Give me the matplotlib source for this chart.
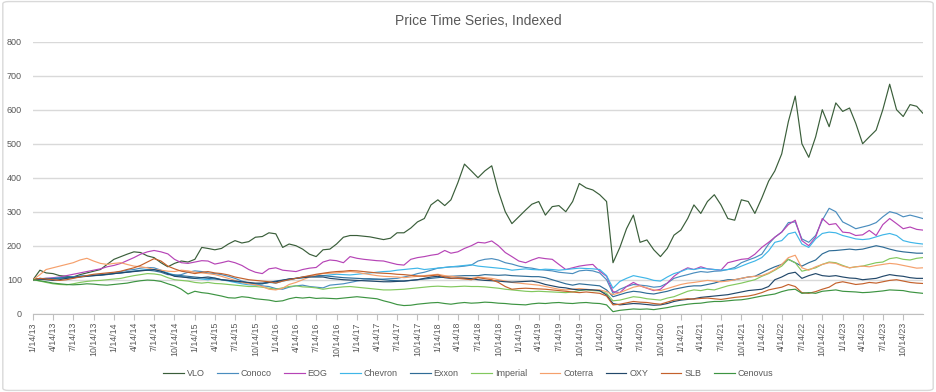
import matplotlib
matplotlib.use('Agg')
import matplotlib.pyplot as plt
import pandas as pd
from matplotlib.patches import FancyBboxPatch

# monthly readings (14th of each month) plus the last trading day shown
dates = list(pd.date_range('2013-01-14', periods=132, freq=pd.DateOffset(months=1))) + [pd.Timestamp('2024-01-10')]

vlo = [100,128,120,118,112,110,108,115,120,125,
       130,145,160,168,175,182,180,170,165,150,
       138,148,155,152,160,195,192,188,192,205,
       215,208,212,225,227,238,235,195,205,200,
       190,175,168,188,190,205,225,230,230,228,
       226,222,218,222,238,238,252,270,280,320,
       335,318,335,385,440,420,400,420,435,360,
       300,265,285,305,322,330,290,315,318,300,
       330,383,370,364,350,330,150,195,250,290,
       210,217,188,168,192,231,246,280,320,295,
       330,350,320,280,275,335,330,295,340,390,
       420,470,565,640,500,460,520,600,550,620,
       595,605,560,500,520,540,600,675,600,580,
       615,610,590]
cop = [100,104,102,103,104,105,108,110,112,114,
       115,117,120,124,128,130,134,136,135,128,
       118,112,115,122,126,124,120,118,115,110,
       104,96,90,86,82,80,74,72,78,82,
       84,80,78,76,84,86,88,92,96,99,
       100,101,102,103,104,108,112,118,122,128,
       134,136,138,138,140,143,155,160,162,158,
       150,146,140,136,134,130,128,126,122,120,
       118,126,128,126,120,100,60,72,80,86,
       84,82,78,80,90,104,110,115,120,124,
       122,125,126,130,136,150,158,165,175,205,
       225,240,268,270,220,210,230,275,310,300,
       270,260,250,255,260,268,285,300,295,285,
       290,285,280]
eog = [100,102,104,106,108,112,116,120,124,128,
       132,138,142,148,156,165,175,182,186,182,
       176,160,150,148,152,156,155,146,150,155,
       150,142,130,122,118,132,135,128,126,124,
       130,134,136,152,158,156,150,168,163,160,
       158,156,155,150,145,143,160,165,168,172,
       175,186,178,182,192,200,210,208,214,200,
       180,168,155,150,158,165,162,160,145,130,
       135,140,143,145,125,110,65,62,80,92,
       82,75,68,72,90,110,125,135,130,138,
       132,130,128,150,155,160,162,175,195,210,
       225,240,262,275,215,200,225,280,262,265,
       240,238,230,232,245,230,262,280,265,250,
       255,248,246]
cvx = [100,102,103,104,106,107,108,110,112,113,
       114,116,118,120,122,125,128,130,129,126,
       120,114,110,106,104,102,100,104,100,96,
       92,88,85,84,88,92,90,96,100,104,
       106,109,110,112,114,116,115,114,116,118,
       120,122,124,125,128,130,132,134,130,132,
       134,136,138,140,142,144,140,138,136,134,
       132,128,130,132,130,129,131,130,128,130,
       132,134,133,132,130,112,75,95,104,112,
       108,104,98,96,108,118,124,132,130,134,
       132,130,128,130,132,140,148,155,165,185,
       210,215,235,240,205,195,220,236,240,238,
       230,225,220,218,220,226,232,236,230,215,
       210,207,205]
xom = [100,103,104,103,105,107,108,110,111,112,
       113,115,118,120,123,125,127,128,126,122,
       115,114,112,110,108,106,104,102,100,98,
       95,92,90,88,88,92,96,99,102,104,
       108,110,112,112,110,108,106,105,104,103,
       103,102,100,98,97,96,98,100,102,104,
       106,108,110,111,112,112,112,115,114,113,
       114,112,111,110,109,109,106,100,94,88,
       84,88,86,84,82,70,50,56,62,66,
       64,60,58,62,66,72,76,80,82,82,
       86,90,96,100,100,104,108,110,120,130,
       138,145,160,150,140,150,158,176,185,186,
       188,190,188,190,195,200,196,190,185,182,
       180,178,178]
imo = [100,96,92,88,86,85,88,92,95,97,
       98,100,102,104,108,112,115,118,117,114,
       106,100,98,96,92,90,92,89,88,86,
       84,82,80,80,78,75,72,76,80,82,
       79,78,76,72,75,77,79,80,78,76,
       74,72,70,70,71,72,74,76,78,80,
       81,80,79,80,81,80,80,79,77,75,
       72,70,68,66,65,66,65,64,63,62,
       64,68,70,68,67,60,38,40,45,50,
       48,44,42,40,46,50,58,66,70,68,
       72,70,76,82,86,90,95,100,110,118,
       128,140,160,150,125,130,135,145,152,150,
       142,135,138,140,145,150,152,162,165,160,
       158,163,165]
ctra = [100,115,130,135,140,145,150,158,163,155,
        148,145,148,150,145,140,138,135,130,128,
        125,124,128,126,122,120,118,115,110,104,
        98,92,88,85,80,72,70,75,86,92,
        100,108,114,118,119,120,122,124,122,118,
        115,112,110,109,108,106,108,110,112,114,
        116,112,110,108,106,104,108,106,104,100,
        96,92,90,88,86,84,80,76,72,70,
        72,74,72,70,70,65,56,62,70,78,
        82,76,70,68,74,80,86,90,92,95,
        98,96,94,96,100,104,108,110,112,120,
        130,145,165,172,135,128,138,145,150,148,
        140,135,138,140,138,142,145,148,146,142,
        138,134,135]
oxy = [100,102,100,98,100,104,106,108,110,112,
       114,116,118,120,122,124,126,128,130,125,
       118,110,108,106,104,106,108,105,100,98,
       96,94,92,90,90,92,94,98,102,104,
       106,108,108,108,104,102,100,99,98,97,
       96,95,94,94,95,96,98,100,104,108,
       110,106,104,105,104,103,100,98,97,96,
       94,93,94,95,96,92,86,82,78,76,
       72,70,71,70,68,55,30,26,28,30,
       29,27,25,26,30,36,40,42,44,48,
       50,52,54,56,60,64,68,70,72,80,
       100,108,118,122,104,112,118,112,110,112,
       108,105,104,100,102,104,110,115,112,110,
       106,104,104]
slb = [100,104,102,100,98,100,104,108,112,116,
       118,120,122,125,130,135,142,152,162,155,
       140,132,125,122,118,122,124,120,118,114,
       108,104,100,98,96,94,90,96,100,104,
       108,112,116,119,122,124,125,127,126,124,
       122,120,119,118,116,115,113,111,110,112,
       114,108,105,104,102,100,106,103,100,92,
       80,72,74,75,74,73,72,70,68,66,
       64,62,64,62,60,52,26,28,32,36,
       34,33,30,28,34,40,42,44,43,45,
       46,44,42,45,48,50,52,56,62,70,
       74,78,86,80,62,60,65,72,78,90,
       94,90,86,88,92,90,94,98,100,96,
       92,90,89]
cve = [100,97,94,90,88,86,85,86,88,87,
       85,84,86,88,90,94,97,99,98,95,
       88,82,72,58,66,62,60,56,52,47,
       46,50,48,44,42,40,36,38,44,48,
       46,48,45,46,45,44,46,48,50,48,
       46,44,38,33,27,24,25,28,30,32,
       33,30,28,31,33,31,32,34,33,31,
       30,28,27,26,29,31,30,32,33,31,
       30,32,33,31,30,26,6,10,12,14,
       13,14,12,15,18,22,25,28,30,31,
       34,36,36,38,40,41,44,48,52,55,
       58,65,70,72,60,62,60,66,68,70,
       66,65,64,62,63,65,67,70,69,68,
       64,62,60]

names = ['VLO', 'Conoco', 'EOG', 'Chevron', 'Exxon', 'Imperial', 'Coterra', 'OXY', 'SLB', 'Cenovus']
series = [vlo, cop, eog, cvx, xom, imo, ctra, oxy, slb, cve]
colors = ['#3A5E3A', '#4A8DBE', '#B644B6', '#3FB6E8', '#2F6C96', '#82C85E',
          '#F5A06C', '#22486A', '#C4612C', '#3D9442']

tick_dates = pd.date_range('2013-01-14', '2023-10-14', freq=pd.DateOffset(months=3))
tick_labels = [f'{d.month}/{d.day}/{d.year % 100}' for d in tick_dates]

plt.rcParams['font.family'] = ['Liberation Sans', 'DejaVu Sans']
grey = '#595959'

fig = plt.figure(figsize=(9.36, 3.92), dpi=100)
fig.patches.append(FancyBboxPatch((0.003, 0.004), 0.994, 0.992, boxstyle='round,pad=0,rounding_size=0.006',
                                  transform=fig.transFigure, fc='none', ec='#D9D9D9', lw=1.0, zorder=0))
ax = fig.add_axes([0.0353, 0.1997, 0.9505, 0.6939])
ax.patch.set_alpha(0)

for s, n, c in zip(series, names, colors):
    ax.plot(dates, s, color=c, lw=0.85, label=n)

ax.set_ylim(0, 800)
ax.set_yticks(range(0, 801, 100))
ax.set_xlim(dates[0], dates[-1])
ax.set_xticks(tick_dates)
ax.set_xticklabels(tick_labels, rotation=90)
ax.grid(axis='y', color='#D9D9D9', lw=1)
ax.set_axisbelow(True)
for sp in ['left', 'right', 'top']:
    ax.spines[sp].set_visible(False)
ax.spines['bottom'].set_color('#BFBFBF')
ax.tick_params(axis='y', length=0, labelsize=6.5, labelcolor=grey, pad=8)
ax.tick_params(axis='x', length=4, color='#BFBFBF', labelsize=6.3, labelcolor=grey, pad=2)

ax.set_title('Price Time Series, Indexed', fontsize=10, color=grey, pad=12)

fig.legend(loc='center', bbox_to_anchor=(0.5, 0.046), ncol=10, frameon=False,
           fontsize=6.5, handlelength=2.3, columnspacing=1.4, handletextpad=0.3,
           labelcolor=grey)

fig.savefig('out.png', dpi=100)
